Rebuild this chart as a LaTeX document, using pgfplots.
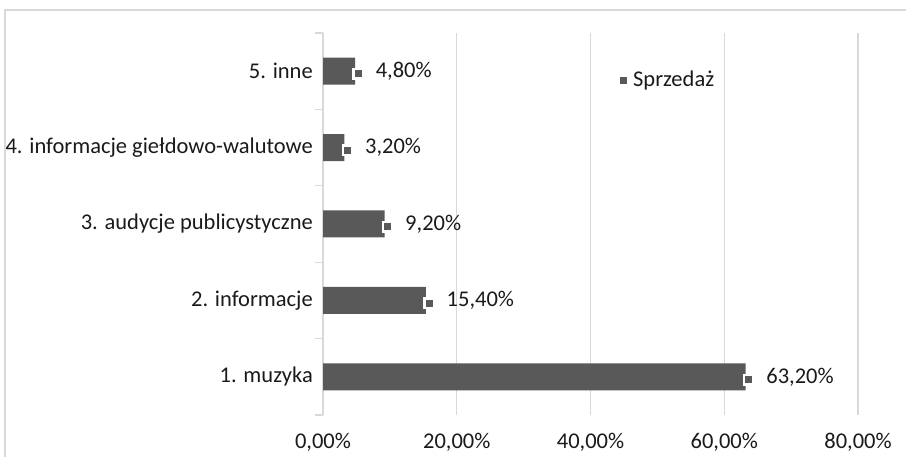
\documentclass[border=0pt]{standalone}
\usepackage{pgfplots}
\pgfplotsset{compat=1.18}
\usepackage{fontspec}
\setmainfont{Carlito}
\definecolor{barcol}{HTML}{595959}
\definecolor{gridcol}{HTML}{D9D9D9}
\definecolor{txtcol}{HTML}{1A1A1A}
\newcommand\lkey{{\setlength\fboxsep{0pt}\setlength\fboxrule{2.5bp}\fcolorbox{white}{barcol}{\rule{0pt}{7bp}\hspace{7bp}}}}
\newcommand\lblfont{\fontsize{22.5bp}{26bp}\selectfont}
\begin{document}
\lblfont
\begin{tikzpicture}
\useasboundingbox (0,0) rectangle (906bp,457bp);
\draw[gridcol, line width=1.2bp] (5bp,-10bp) -- (5bp,447bp) -- (930bp,447bp);
\begin{axis}[
  at={(323bp,42bp)}, anchor=south west,
  scale only axis, width=535bp, height=382bp,
  xbar, bar width=27bp,
  xmin=0, xmax=80, ymin=0.5, ymax=5.5,
  xtick={0,20,40,60,80},
  xticklabel={\pgfmathprintnumber[fixed,fixed zerofill,precision=2,use comma]{\tick}\%},
  ytick={1,2,3,4,5},
  yticklabels={1. muzyka,2. informacje,3. audycje publicystyczne,4. informacje giełdowo-walutowe,5. inne},
  minor ytick={0.5,1.5,2.5,3.5,4.5,5.5},
  major tick length=0pt, minor tick length=8bp,
  tick align=outside, tick pos=left,
  tick style={gridcol, line width=1.2bp},
  xmajorgrids, grid style={gridcol, line width=1.2bp},
  separate axis lines,
  x axis line style={draw=none},
  y axis line style={gridcol, line width=1.2bp},
  /pgf/number format/assume math mode=true,
  ticklabel style={font=\lblfont, text=txtcol},
  xticklabel style={yshift=-10bp},
  yticklabel style={xshift=-2.5bp},
  point meta=x,
  nodes near coords={\lkey\hspace{11.5bp}\pgfmathprintnumber[fixed,fixed zerofill,precision=2,use comma,assume math mode=true]{\pgfplotspointmeta}\%},
  every node near coord/.append style={anchor=west, inner sep=0pt, xshift=-3bp, text=txtcol, font=\lblfont},
  legend style={at={(0.555,0.875)}, anchor=west, draw=none, fill=none, font=\lblfont, text=txtcol, inner sep=0pt},
  legend image code/.code={\fill[barcol] (0bp,-3.5bp) rectangle (7bp,3.5bp);},
]
\addplot[fill=barcol, draw=none] coordinates {(63.2,1) (15.4,2) (9.2,3) (3.2,4) (4.8,5)};
\addlegendentry{\hspace{4bp}Sprzedaż}
\end{axis}
\end{tikzpicture}
\end{document}
